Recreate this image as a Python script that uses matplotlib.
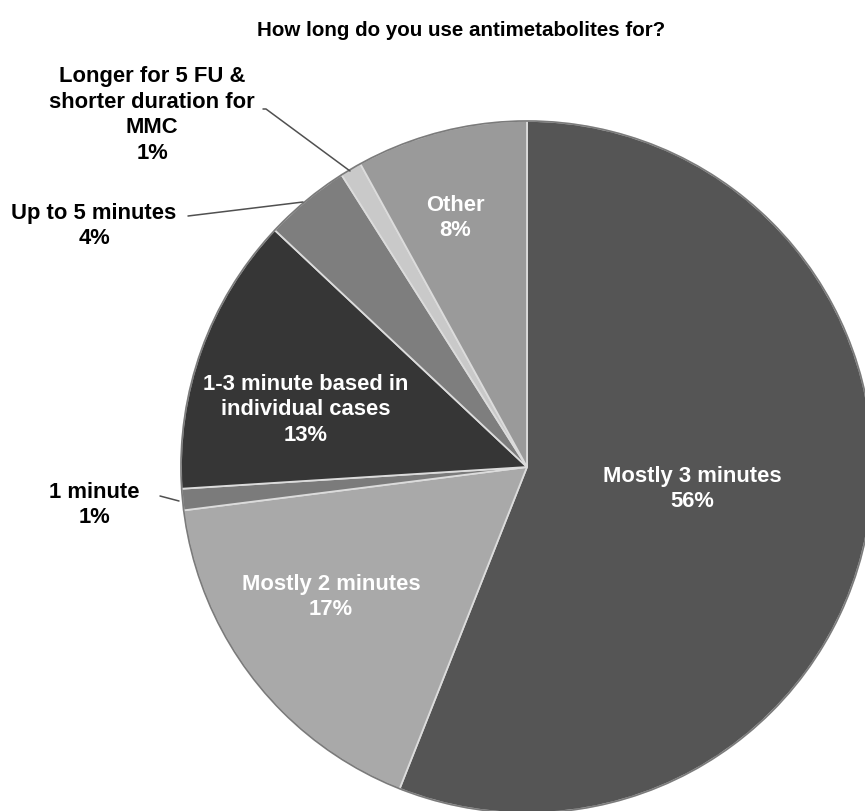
import matplotlib
matplotlib.use("Agg")
import matplotlib.pyplot as plt

# Survey answers, clockwise from 12 o'clock
categories = [
    "Mostly 3 minutes",
    "Mostly 2 minutes",
    "1 minute",
    "1-3 minute based in\nindividual cases",
    "Up to 5 minutes",
    "Longer for 5 FU &\nshorter duration for\nMMC",
    "Other",
]
percent = [56, 17, 1, 13, 4, 1, 8]
slice_colors = ["#555555", "#a9a9a9", "#7b7b7b", "#363636", "#7e7e7e", "#c9c9c9", "#9a9a9a"]
title = "How long do you use antimetabolites for?"

W, H = 865, 812
fig = plt.figure(figsize=(W / 100, H / 100), dpi=100)
ax = fig.add_axes([0, 0, 1, 1])

cx, cy, r = 527, 468, 346

# y axis runs downward, so a counter-clockwise pie here reads clockwise on screen
wedges, _ = ax.pie(
    percent,
    colors=slice_colors,
    startangle=-90,
    counterclock=True,
    center=(cx, cy),
    radius=r,
    wedgeprops=dict(edgecolor="#dcdcdc", linewidth=1.3),
    frame=True,
)
ax.set_xlim(0, W)
ax.set_ylim(H, 0)
ax.set_aspect("equal")
ax.axis("off")

# soft darker rim around the disc
rim = plt.Circle((cx, cy), r, fill=False, edgecolor="#3a3a3a", linewidth=1.2, alpha=0.6)
ax.add_patch(rim)

font = dict(family=["Liberation Sans", "DejaVu Sans"], fontweight="bold", fontsize=15.8)

# text anchors (inside slices: white, outside: black)
label_pos = [
    (692, 489, "white"),
    (331, 597, "white"),
    (94, 505, "black"),
    (306, 410, "white"),
    (94, 226, "black"),
    (152, 115, "black"),
    (455, 218, "white"),
]
for name, pct, (x, y, col) in zip(categories, percent, label_pos):
    ax.text(x, y, f"{name}\n{pct}%", ha="center", va="center", color=col,
            linespacing=1.3, **font)

# leader lines for the thin outer slices
leaders = [
    [(160, 497), (179, 502)],
    [(188, 217), (303, 203)],
    [(263, 110), (266, 110), (350, 172)],
]
for pts in leaders:
    xs, ys = zip(*pts)
    ax.plot(xs, ys, color="#505050", linewidth=1.1, solid_capstyle="round")

ax.text(461, 30, title, ha="center", va="center", color="black",
        family=["Liberation Sans", "DejaVu Sans"], fontweight="bold", fontsize=14.8)

fig.savefig("out.png", dpi=100)
